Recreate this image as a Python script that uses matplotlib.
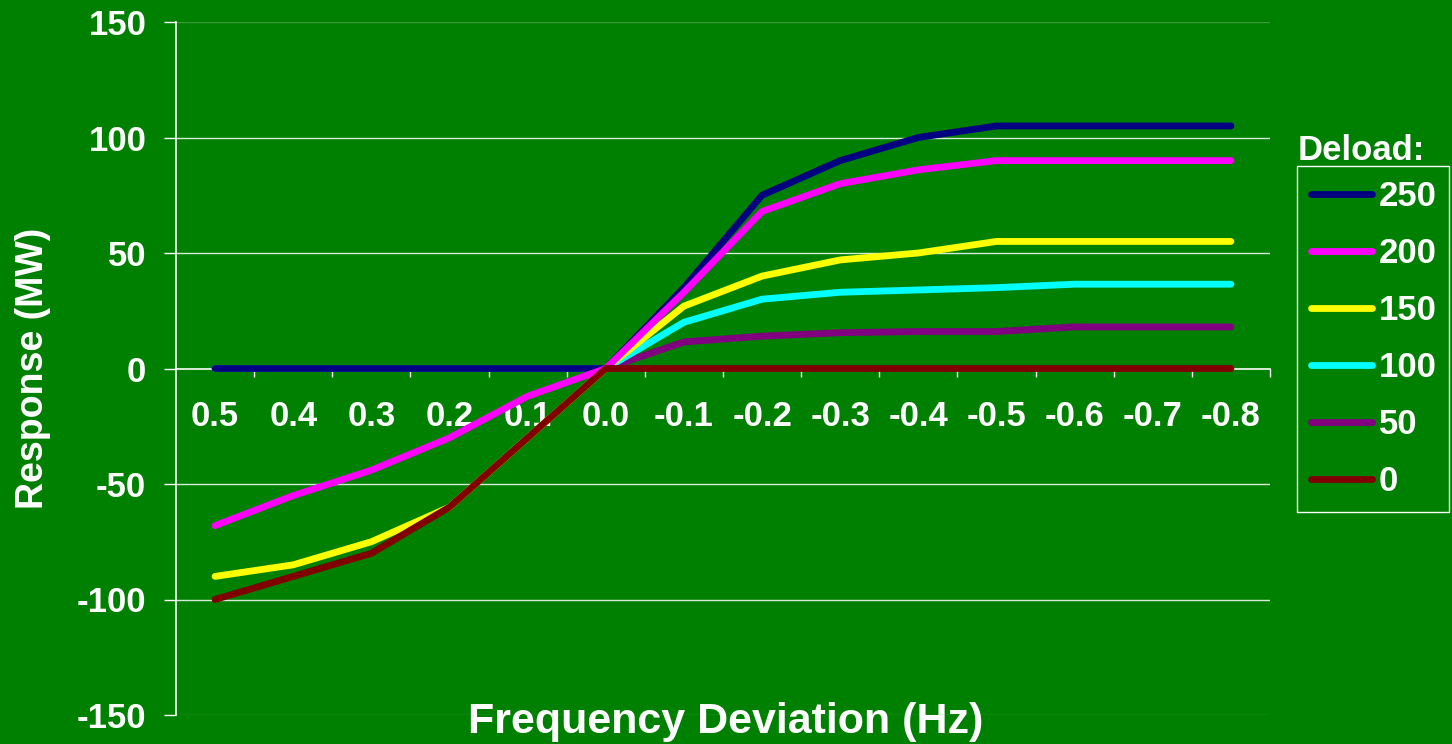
import matplotlib
matplotlib.use("Agg")
import matplotlib.pyplot as plt

plt.rcParams['font.family'] = ['Liberation Sans', 'DejaVu Sans']
plt.rcParams['font.weight'] = 'bold'

categories = ["0.5", "0.4", "0.3", "0.2", "0.1", "0.0", "-0.1", "-0.2",
              "-0.3", "-0.4", "-0.5", "-0.6", "-0.7", "-0.8"]

deload_250 = [0, 0, 0, 0, 0, 0, 35, 75, 90, 100, 105, 105, 105, 105]
deload_200 = [-68, -55, -44, -30, -12, 0, 33, 68, 80, 86, 90, 90, 90, 90]
deload_150 = [-90, -85, -75, -60, -30, 0, 27, 40, 47, 50, 55, 55, 55, 55]
deload_100 = [0, 0, 0, 0, 0, 0, 20, 30, 33, 34, 35, 36.5, 36.5, 36.5]
deload_50 = [0, 0, 0, 0, 0, 0, 11.5, 14, 15.5, 16, 16, 18, 18, 18]
deload_0 = [-100, -90, -80, -60, -30, 0, 0, 0, 0, 0, 0, 0, 0, 0]

series_labels = ["250", "200", "150", "100", "50", "0"]
series_values = [deload_250, deload_200, deload_150, deload_100, deload_50, deload_0]
series_colors = ["#000080", "#FF00FF", "#FFFF00", "#00FFFF", "#800080", "#800000"]
series_z = [4, 6, 5, 3, 2, 7]

y_ticks = [-150, -100, -50, 0, 50, 100, 150]

BG = "#008000"
FS = 25
LW = 4.9
fig = plt.figure(figsize=(14.52, 7.44), dpi=100, facecolor=BG)
ax = fig.add_axes([176/1452, 1-715/744, 1094/1452, 693/744])
ax.set_facecolor(BG)

x = list(range(len(categories)))
handles = []
for lab, vals, col, z in zip(series_labels, series_values, series_colors, series_z):
    h, = ax.plot(x, vals, color=col, lw=LW, solid_capstyle='round',
                 solid_joinstyle='round', zorder=z, label=lab)
    handles.append(h)

ax.set_xlim(-0.5, len(categories) - 0.5)
ax.set_ylim(-150, 150)

# gridlines
for yv in y_ticks:
    if yv == 0:
        continue
    if abs(yv) == 150:
        ax.axhline(yv, color="#3a9a3a", lw=1.0, zorder=1)
    else:
        ax.axhline(yv, color="white", lw=1.0, alpha=0.85, zorder=1)

# spines
for s in ['top', 'right']:
    ax.spines[s].set_visible(False)
ax.spines['bottom'].set_position(('data', 0))
ax.spines['bottom'].set_color('white')
ax.spines['bottom'].set_linewidth(1.2)
ax.spines['bottom'].set_zorder(1.5)
ax.spines['left'].set_color('white')
ax.spines['left'].set_linewidth(1.2)

# y axis
ax.set_yticks(y_ticks)
ax.set_yticklabels([str(v) for v in y_ticks])
ax.tick_params(axis='y', direction='out', length=8.5, width=1.0, color='white',
               labelcolor='white', labelsize=FS, pad=13)
for t in ax.get_yticklabels():
    t.set_fontweight('bold')

# x axis: ticks at category boundaries, labels at centers
ax.set_xticks([i + 0.5 for i in range(len(categories))])
ax.set_xticklabels([])
ax.tick_params(axis='x', which='major', direction='out', length=5.5, width=1.0,
               color='white')
ax.set_xticks(x, minor=True)
ax.set_xticklabels(categories, minor=True)
ax.tick_params(axis='x', which='minor', length=0, labelcolor='white',
               labelsize=FS, pad=23)
for t in ax.get_xticklabels(minor=True):
    t.set_fontweight('bold')

ax.set_ylabel("Response (MW)", color='white', fontsize=27, fontweight='bold')
ax.yaxis.set_label_coords((51-176)/1094, 0.5)

fig.text(726/1452, 1-722/744, "Frequency Deviation (Hz)", color='white',
         fontsize=31, fontweight='bold', ha='center', va='center')

leg = ax.legend(handles=handles, loc='upper left',
                bbox_to_anchor=(1297/1452, 1-510/744, 152/1452, 344/744),
                bbox_transform=fig.transFigure, mode='expand',
                frameon=True, fancybox=False, facecolor=BG, edgecolor='white',
                framealpha=1, fontsize=FS, handlelength=1.75, handletextpad=0.2,
                labelspacing=0.69, borderpad=0.4, borderaxespad=0)
leg.get_frame().set_linewidth(1.0)
for t in leg.get_texts():
    t.set_color('white')
    t.set_fontweight('bold')
for lh in leg.get_lines():
    lh.set_linewidth(LW)

fig.text(1298/1452, 1-151/744, "Deload:", color='white', fontsize=FS,
         fontweight='bold', ha='left', va='center')

fig.savefig("out.png", dpi=100, facecolor=BG)
